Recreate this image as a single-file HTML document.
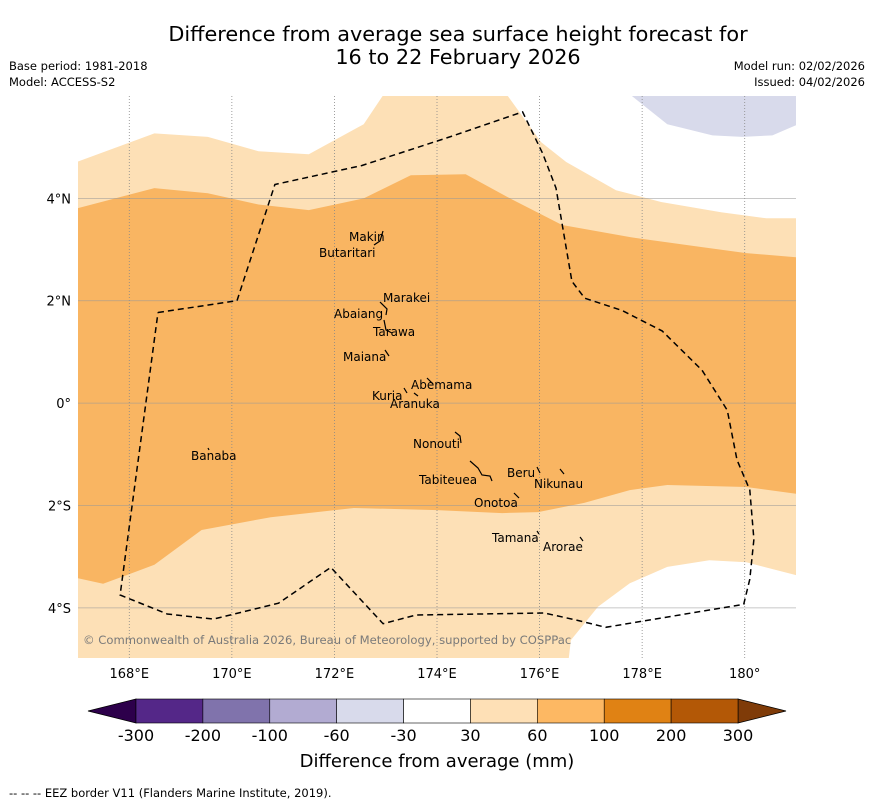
<!DOCTYPE html>
<html><head><meta charset="utf-8"><style>
body{margin:0;background:#fff;width:873px;height:804px;overflow:hidden;font-family:"Liberation Sans","DejaVu Sans",sans-serif}
svg{position:absolute;left:0;top:0}
</style></head><body>
<svg id="c" width="873" height="804" font-family="DejaVu Sans, Liberation Sans, sans-serif">
<text x="458" y="41" font-size="20.8" text-anchor="middle">Difference from average sea surface height forecast for</text>
<text x="458" y="64" font-size="20.8" text-anchor="middle">16 to 22 February 2026</text>
<text x="9" y="70" font-size="11.5">Base period: 1981-2018</text>
<text x="9" y="86" font-size="11.5">Model: ACCESS-S2</text>
<text x="865" y="70" font-size="11.5" text-anchor="end">Model run: 02/02/2026</text>
<text x="865" y="86" font-size="11.5" text-anchor="end">Issued: 04/02/2026</text>
<g id="map"></g>
<g id="cb"></g>
<text x="437" y="767" font-size="18" text-anchor="middle">Difference from average (mm)</text>
<text x="9" y="797" font-size="11.5">--  --  -- EEZ border V11 (Flanders Marine Institute, 2019).</text>
</svg>
<script>
// axis definitions
const lonTicks=[168,170,172,174,176,178,180];
const lonTickLabels=["168°E","170°E","172°E","174°E","176°E","178°E","180°"];
const latTicks=[4,2,0,-2,-4];
const latTickLabels=["4°N","2°N","0°","2°S","4°S"];
const lonMin=167,lonMax=181,latMin=-4.98,latMax=6.0;
const X0=78,X1=796,Y0=96,Y1=658;
function px(lon){return X0+(lon-lonMin)/(lonMax-lonMin)*(X1-X0);}
function py(lat){return Y0+(latMax-lat)/(latMax-latMin)*(Y1-Y0);}
// contour polygons [lon,lat]
const lightRegion=[[167,4.72],[168.49,5.27],[169.53,5.2],[170.52,4.92],[171.5,4.86],[172.57,5.45],[172.94,6.0],[175.38,6.0],[176.03,5.1],[176.52,4.71],[177.49,4.16],[178.37,3.93],[179.54,3.73],[180.42,3.61],[181,3.61],[181,-3.36],[180.03,-3.11],[179.31,-3.07],[178.49,-3.2],[177.76,-3.52],[177.14,-3.98],[176.61,-4.63],[176.57,-4.98],[167,-4.98]];
const orangeRegion=[[167,3.81],[168.49,4.2],[169.53,4.1],[170.52,3.88],[171.5,3.77],[172.57,4.0],[173.49,4.45],[174.56,4.47],[175.46,3.98],[176.44,3.48],[177.78,3.24],[179.15,3.05],[180.03,2.93],[181,2.85],[181,-1.77],[180.03,-1.64],[178.49,-1.6],[177.76,-1.7],[176.87,-1.95],[175.97,-2.13],[175.27,-2.15],[174.0,-2.09],[172.38,-2.05],[170.76,-2.23],[169.41,-2.48],[168.49,-3.16],[167.49,-3.53],[167,-3.42]];
const purpleRegion=[[177.8,6.0],[178.49,5.45],[179.37,5.23],[179.95,5.2],[180.54,5.23],[181,5.43],[181,6.0]];
const eezBorder=[[168.56,1.77],[170.1,2.0],[170.84,4.27],[172.53,4.64],[174.25,5.2],[175.67,5.69],[176.06,4.88],[176.32,4.2],[176.63,2.38],[176.88,2.05],[177.61,1.81],[178.39,1.41],[179.17,0.64],[179.66,-0.14],[179.85,-1.11],[180.1,-1.7],[180.18,-2.66],[180.1,-3.44],[179.98,-3.93],[177.29,-4.38],[176.72,-4.24],[176.09,-4.1],[173.59,-4.14],[172.95,-4.31],[171.93,-3.21],[170.91,-3.91],[169.64,-4.22],[168.74,-4.12],[167.82,-3.75],[168.56,1.77]];
const cbBounds=["-300","-200","-100","-60","-30","30","60","100","200","300"];
const cbColors=["#542788","#8073ac","#b2abd2","#d8daeb","#ffffff","#fee0b6","#fdb863","#e08214","#b35806"];
const NS="http://www.w3.org/2000/svg";
const map=document.getElementById('map');
function mk(tag,attrs,parent){const e=document.createElementNS(NS,tag);for(const k in attrs)e.setAttribute(k,attrs[k]);parent.appendChild(e);return e;}
function pts(a){return a.map(p=>px(p[0]).toFixed(1)+","+py(p[1]).toFixed(1)).join(" ");}
let e;
e=mk('polygon',{points:pts(lightRegion),fill:'#fde0b6'},map);


e=mk('polygon',{points:pts(orangeRegion),fill:'#f9b562'},map);


e=mk('polygon',{points:pts(purpleRegion),fill:'#d8daeb'},map);


lonTicks.forEach((v,i)=>{
 e=mk('line',{x1:px(v),x2:px(v),y1:Y0,y2:Y1,stroke:'#888','stroke-width':0.8,'stroke-dasharray':'1,2'},map);
 
 
 e=mk('text',{x:px(v),y:678,'font-size':13,'text-anchor':'middle'},map);e.textContent=lonTickLabels[i];
 
 
});
latTicks.forEach((v,i)=>{
 e=mk('line',{x1:X0,x2:X1,y1:py(v),y2:py(v),stroke:'#999','stroke-width':0.8,'stroke-opacity':0.7},map);
 
 
 e=mk('text',{x:71,y:py(v)+5,'font-size':13,'text-anchor':'end'},map);e.textContent=latTickLabels[i];
 
 
});
e=mk('polyline',{points:pts(eezBorder),fill:'none',stroke:'#000','stroke-width':1.5,'stroke-dasharray':'6,4'},map);


const islands=[["Makin",349,241],["Butaritari",319,257],["Marakei",383,302],["Abaiang",334,318],["Tarawa",373,336],["Maiana",343,361],["Abemama",411,389],["Kuria",372,400],["Aranuka",390,408],["Banaba",191,460],["Nonouti",413,448],["Beru",507,477],["Tabiteuea",419,484],["Nikunau",534,488],["Onotoa",474,507],["Tamana",492,542],["Arorae",543,551]];
const strokes=["M383,231 L380,241 L374,245","M380,302 L387,309 L386,315","M384,320 L386,330 L392,333","M385,350 L389,356","M427,378 L433,384","M404,388 L407,393","M414,393 L418,396","M208,448 L209,450","M455,432 L460,436 L461,443","M470,461 L478,468 L482,475 L490,476 L492,481","M537,467 L540,473","M560,469 L564,474","M514,493 L519,498","M537,531 L539,534","M580,537 L583,541"];
strokes.forEach(d=>{e=mk('path',{d:d,fill:'none',stroke:'#000','stroke-width':1.2},map);
 
 });
islands.forEach(s=>{e=mk('text',{x:s[1],y:s[2],'font-size':12},map);e.textContent=s[0];
 
 });
e=mk('text',{x:83,y:644,'font-size':11.6,fill:'#7a7a7a'},map);e.textContent="© Commonwealth of Australia 2026, Bureau of Meteorology, supported by COSPPac";


// colorbar
const cb=document.getElementById('cb');
const cbX0=136,cbX1=738,cbY=699,cbH=24,w=(cbX1-cbX0)/cbColors.length;
e=mk('polygon',{points:`88,711 ${cbX0},${cbY} ${cbX0},${cbY+cbH}`,fill:'#2d004b',stroke:'#000','stroke-width':0.8},cb);


e=mk('polygon',{points:`786,711 ${cbX1},${cbY} ${cbX1},${cbY+cbH}`,fill:'#7f3b08',stroke:'#000','stroke-width':0.8},cb);


cbColors.forEach((c,i)=>{e=mk('rect',{x:cbX0+i*w,y:cbY,width:w,height:cbH,fill:c,stroke:'#000','stroke-width':0.6},cb);
 
 });
cbBounds.forEach((t,i)=>{e=mk('text',{x:cbX0+i*w,y:741,'font-size':16,'text-anchor':'middle'},cb);e.textContent=t;
 
 });
</script>
</body></html>
